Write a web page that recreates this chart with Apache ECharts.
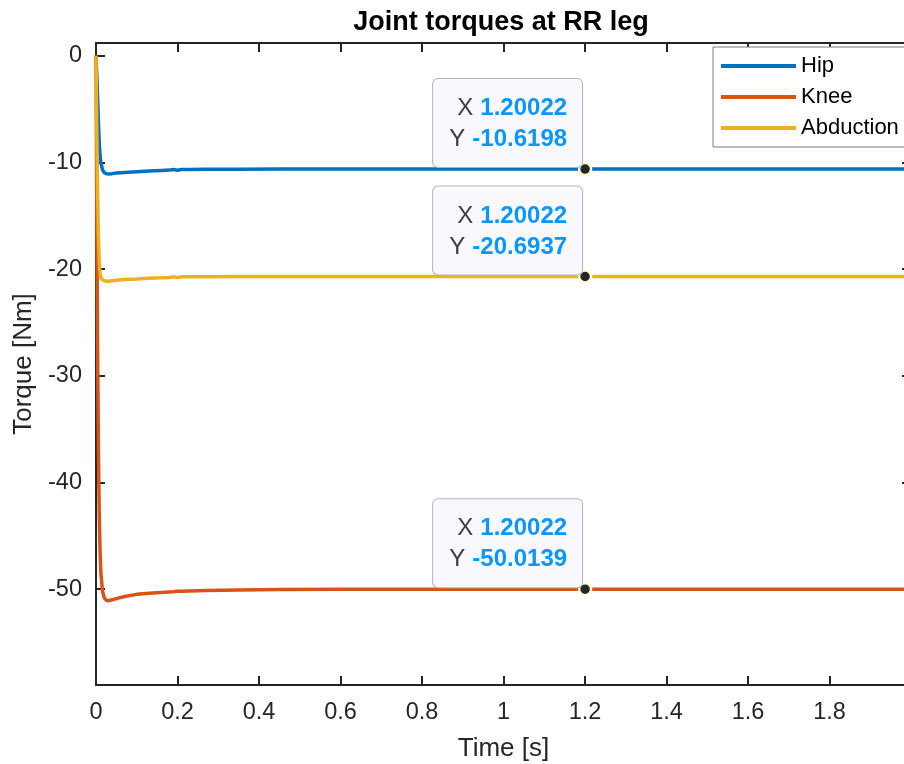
<!DOCTYPE html>
<html>
<head>
<meta charset="utf-8">
<title>Joint torques at RR leg</title>
<script src="https://cdn.jsdelivr.net/npm/echarts@6/dist/echarts.min.js"></script>
<style>
  html, body { margin: 0; padding: 0; background: #ffffff; }
  #chart { width: 904px; height: 764px; }
</style>
</head>
<body>
<div id="chart"></div>
<script>
// Simulated joint torques of the rear-right leg [Nm] over time [s]
const time = [0, 0.002, 0.004, 0.006, 0.008, 0.010, 0.012, 0.016, 0.020, 0.025, 0.030,
  0.040, 0.050, 0.070, 0.100, 0.130, 0.160, 0.180, 0.190, 0.200, 0.210, 0.230, 0.270,
  0.350, 0.450, 0.600, 0.800, 1.000, 1.20022, 1.500, 2.000];

const hip = [0, -1.8, -4.0, -6.3, -8.2, -9.4, -10.0, -10.7, -10.95, -11.05, -11.08,
  -11.05, -11.0, -10.94, -10.87, -10.80, -10.75, -10.72, -10.67, -10.73, -10.67, -10.66, -10.64,
  -10.63, -10.625, -10.622, -10.620, -10.620, -10.6198, -10.6198, -10.6198];

const knee = [0, -15, -28, -37, -43, -46.5, -48.5, -50.2, -50.8, -51.05, -51.1,
  -51.0, -50.9, -50.7, -50.5, -50.4, -50.32, -50.27, -50.25, -50.22, -50.2, -50.18, -50.14,
  -50.09, -50.05, -50.03, -50.02, -50.016, -50.0139, -50.013, -50.013];

const abduction = [0, -7, -13, -17, -19.3, -20.4, -20.8, -21.0, -21.1, -21.15, -21.15,
  -21.1, -21.05, -20.98, -20.93, -20.87, -20.82, -20.78, -20.73, -20.79, -20.73, -20.73, -20.71,
  -20.70, -20.697, -20.695, -20.694, -20.694, -20.6937, -20.6937, -20.6937];

const seriesNames = ['Hip', 'Knee', 'Abduction'];
const seriesColors = ['#0072BD', '#D95319', '#EDB120'];

const xTicks = [0, 0.2, 0.4, 0.6, 0.8, 1, 1.2, 1.4, 1.6, 1.8, 2];
const yTicks = [-50, -40, -30, -20, -10, 0];

// time instant inspected with data tips
const tipTime = 1.20022;

const FONT = '"Liberation Sans", Arial, Helvetica, sans-serif';
const INK = '#262626';

const values = [hip, knee, abduction];
const pairs = arr => time.map((t, i) => [t, arr[i]]);
const tipIdx = time.indexOf(tipTime);

const lineSeries = values.map((arr, k) => ({
  name: seriesNames[k],
  type: 'line',
  data: pairs(arr),
  showSymbol: false,
  symbol: 'none',
  color: seriesColors[k],
  lineStyle: { width: 3.5, color: seriesColors[k] },
  z: 2 + k,
  animation: false
}));

const tipSeries = {
  type: 'scatter',
  name: 'tips',
  data: values.map(arr => [time[tipIdx], arr[tipIdx]]),
  symbolSize: 12,
  itemStyle: { color: INK, borderColor: '#fffbd6', borderWidth: 2.5, opacity: 1 },
  z: 10,
  silent: true,
  animation: false,
  label: {
    show: true,
    position: ['50%', '50%'],
    align: 'right',
    verticalAlign: 'bottom',
    offset: [-3, -2],
    width: 118,
    padding: [14, 15, 12, 16],
    backgroundColor: '#f9f9fd',
    borderColor: '#b4b4b4',
    borderWidth: 1,
    borderRadius: 5,
    lineHeight: 31,
    formatter: p => '{k|X}{v|' + p.value[0].toPrecision(6) + '}\n{k|Y}{v|' + p.value[1].toPrecision(6) + '}',
    rich: {
      k: { fontFamily: FONT, fontSize: 24, color: '#404040', lineHeight: 31, padding: [0, 7, 0, 0] },
      v: { fontFamily: FONT, fontSize: 24, fontWeight: 'bold', color: '#0a96ff', lineHeight: 31 }
    }
  }
};

const axisCommon = {
  axisLine: { show: true, onZero: false, lineStyle: { color: INK, width: 2 } },
  axisTick: { show: true, inside: true, length: 9, lineStyle: { color: INK, width: 2 } },
  splitLine: { show: false }
};

const chart = echarts.init(document.getElementById('chart'), null, { renderer: 'canvas' });
chart.setOption({
  animation: false,
  backgroundColor: '#ffffff',
  grid: { left: 96, top: 43, width: 815, height: 642, containLabel: false, outerBoundsMode: 'none' },
  graphic: [{
    type: 'text',
    x: 501, y: 23,
    style: {
      text: 'Joint torques at RR leg',
      font: 'bold 27px ' + FONT,
      fill: '#000000',
      align: 'center',
      verticalAlign: 'middle'
    }
  }],
  legend: {
    data: seriesNames,
    orient: 'vertical',
    left: 713, top: 47,
    icon: 'rect',
    itemWidth: 75,
    itemHeight: 4,
    itemGap: 7,
    padding: [7, 24, 7, 8],
    backgroundColor: '#ffffff',
    borderColor: '#7a7a7a',
    borderWidth: 1,
    borderRadius: 0,
    selectedMode: false,
    textStyle: { fontFamily: FONT, fontSize: 22, color: '#000000', lineHeight: 24 }
  },
  xAxis: [
    Object.assign({}, axisCommon, {
      type: 'value', position: 'bottom', min: 0, max: 2,
      name: 'Time [s]', nameLocation: 'middle', nameGap: 51,
      nameTextStyle: { fontFamily: FONT, fontSize: 26, color: INK },
      axisTick: Object.assign({}, axisCommon.axisTick, { customValues: xTicks }),
      axisLabel: { customValues: xTicks, fontFamily: FONT, fontSize: 23.5, color: INK, margin: 16 }
    }),
    Object.assign({}, axisCommon, {
      type: 'value', position: 'top', min: 0, max: 2,
      axisTick: Object.assign({}, axisCommon.axisTick, { customValues: xTicks }),
      axisLabel: { show: false }
    })
  ],
  yAxis: [
    Object.assign({}, axisCommon, {
      type: 'value', position: 'left', min: -59, max: 1.2,
      name: 'Torque [Nm]', nameLocation: 'middle', nameGap: 58, nameRotate: 90,
      nameTextStyle: { fontFamily: FONT, fontSize: 26, color: INK },
      axisTick: Object.assign({}, axisCommon.axisTick, { customValues: yTicks }),
      axisLabel: { customValues: yTicks, fontFamily: FONT, fontSize: 23.5, color: INK, margin: 14 }
    }),
    Object.assign({}, axisCommon, {
      type: 'value', position: 'right', min: -59, max: 1.2,
      axisTick: Object.assign({}, axisCommon.axisTick, { customValues: yTicks }),
      axisLabel: { show: false }
    })
  ],
  series: lineSeries.concat([tipSeries])
});
</script>
</body>
</html>
